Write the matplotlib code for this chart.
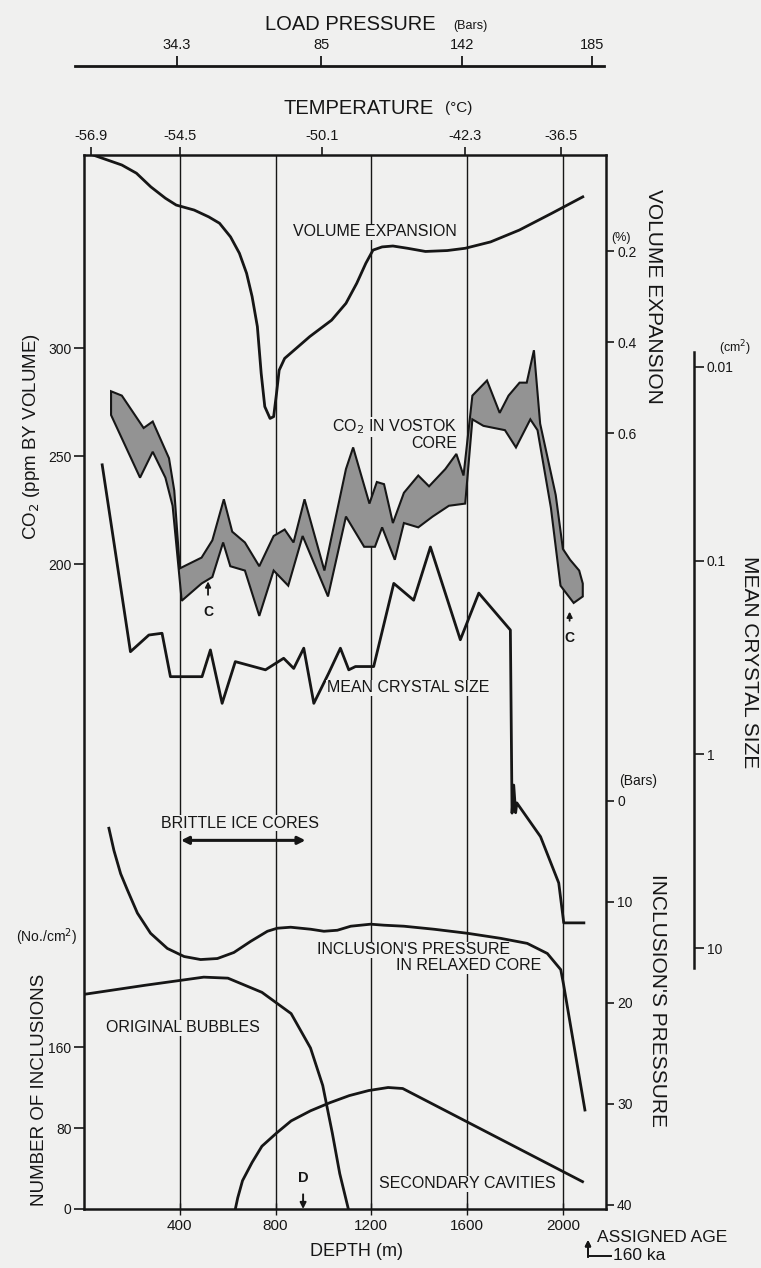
import matplotlib
matplotlib.use('Agg')
from matplotlib import pyplot as plt
from matplotlib.lines import Line2D

plt.rcParams['font.family'] = ['Liberation Sans', 'DejaVu Sans']

# --- values (depth in m) ---
depth_grid = [400, 800, 1200, 1600, 2000]

temp_depth = [29, 403, 994, 1591, 1992]
temp_labels = ['-56.9', '-54.5', '-50.1', '-42.3', '-36.5']

load_depth = [388, 990, 1579, 2122]
load_labels = ['34.3', '85', '142', '185']

# volume expansion (%)
ve_depth = [38, 98, 158, 219, 279, 340, 385, 460, 521, 566, 612, 649, 679, 702, 724, 740, 755,
            777, 792, 804, 815, 838, 943, 1034, 1094, 1139, 1177, 1207, 1245, 1290, 1351, 1426,
            1517, 1592, 1698, 1818, 1954, 2083]
ve_pct = [-0.011, 0.0, 0.011, 0.029, 0.059, 0.084, 0.099, 0.110, 0.125, 0.139, 0.169, 0.205,
          0.249, 0.300, 0.366, 0.469, 0.542, 0.568, 0.564, 0.513, 0.462, 0.436, 0.388, 0.352,
          0.315, 0.271, 0.227, 0.198, 0.191, 0.189, 0.194, 0.201, 0.199, 0.194, 0.180, 0.154,
          0.117, 0.081]

# CO2 in Vostok core, upper and lower envelope (ppm)
co2_hi_depth = [113, 158, 249, 287, 355, 377, 400, 491, 536, 584, 619, 672, 732, 792, 838, 875,
                921, 1004, 1094, 1124, 1192, 1223, 1253, 1290, 1336, 1396, 1441, 1509, 1555, 1585,
                1622, 1683, 1736, 1773, 1819, 1849, 1879, 1905, 1970, 2000, 2030, 2068, 2083]
co2_hi = [280, 278, 263, 266, 249, 234, 198, 203, 211, 230, 215, 210, 199, 213, 216, 210,
          230, 197, 244, 254, 228, 238, 237, 219, 233, 241, 236, 244, 251, 241,
          278, 285, 270, 278, 284, 284, 299, 265, 232, 207, 202, 197, 191]
co2_lo_depth = [113, 234, 287, 340, 370, 408, 491, 536, 581, 611, 672, 732, 792, 853, 913, 1019,
                1094, 1170, 1215, 1245, 1298, 1336, 1396, 1456, 1524, 1592, 1622, 1668, 1758, 1804,
                1864, 1894, 1950, 1990, 2045, 2083]
co2_lo = [269, 240, 252, 240, 227, 183, 191, 194, 210, 199, 197, 176, 197, 190, 213, 185,
          222, 208, 208, 217, 202, 219, 217, 222, 227, 228, 267, 264, 262, 254,
          267, 262, 226, 190, 182, 185]

# mean crystal size (cm2)
mcs_depth = [76, 194, 271, 326, 361, 493, 528, 577, 632, 758, 834, 876, 918, 960, 1022, 1071,
             1106, 1134, 1210, 1294, 1377, 1447, 1572, 1649, 1781, 1788, 1795, 1803, 1808, 1907,
             1983, 2004, 2088]
mcs = [0.032, 0.295, 0.242, 0.237, 0.397, 0.397, 0.289, 0.545, 0.332, 0.366, 0.319, 0.360,
       0.283, 0.545, 0.381, 0.283, 0.366, 0.352, 0.352, 0.131, 0.160, 0.085, 0.256, 0.147,
       0.228, 2.01, 1.44, 2.0, 1.78, 2.66, 4.61, 7.41, 7.41]

# inclusion's pressure in relaxed core (bars)
pres_depth = [104, 125, 153, 181, 223, 278, 348, 418, 487, 557, 626, 696, 766, 807, 863, 947,
              1002, 1058, 1114, 1197, 1253, 1336, 1462, 1601, 1740, 1851, 1935, 1991, 2003, 2092]
pres = [2.7, 4.9, 7.2, 8.8, 11.1, 13.1, 14.6, 15.4, 15.7, 15.6, 15.0, 13.9, 12.9, 12.6, 12.5,
        12.7, 12.9, 12.8, 12.4, 12.2, 12.3, 12.4, 12.7, 13.1, 13.6, 14.1, 15.1, 16.7, 18.2, 30.6]

# number of inclusions (No./cm2)
bub_depth = [0, 256, 500, 601, 743, 865, 946, 997, 1037, 1068, 1104]
bubbles = [212, 221, 229, 228, 214, 193, 159, 122, 75, 35, 0]
cav_depth = [632, 642, 662, 702, 743, 804, 865, 946, 1027, 1108, 1189, 1270, 1331, 2082]
cavities = [0, 11, 28, 46, 62, 75, 87, 97, 105, 112, 117, 120, 119, 27]

W, H = 761, 1268
ink = '#161616'
paper = '#f0f0ef'
band = '#939393'

fig = plt.figure(figsize=(W / 100, H / 100), dpi=100, facecolor=paper)


def fx(px):
    return px / W


def fy(py):
    return 1 - py / H


def rect(left, top, right, bottom):
    return [fx(left), fy(bottom), fx(right) - fx(left), fy(top) - fy(bottom)]


def label(px, py, s, size=11.5, ha='center', va='center', rot=0, box=False):
    kw = {}
    if box:
        kw['bbox'] = dict(facecolor=paper, edgecolor='none', pad=0.6)
    fig.text(fx(px), fy(py), s, fontsize=size, ha=ha, va=va, rotation=rot, color=ink, **kw)


L, T, R, B = 84, 155, 606, 1209
DMAX = 2180


def layer(ylim):
    a = fig.add_axes(rect(L, T, R, B))
    a.patch.set_visible(False)
    for s in a.spines.values():
        s.set_visible(False)
    a.set_xlim(0, DMAX)
    a.set_ylim(*ylim)
    a.tick_params(bottom=False, labelbottom=False, left=False, labelleft=False)
    return a


# main frame: depth vs CO2
ax = fig.add_axes(rect(L, T, R, B))
ax.set_facecolor(paper)
ax.set_xlim(0, DMAX)
ax.set_ylim(-98.6, 389.4)
for s in ax.spines.values():
    s.set_linewidth(1.8)
    s.set_color(ink)
for d in depth_grid:
    ax.axvline(d, color=ink, lw=1.0, zorder=0)
ax.set_xticks(depth_grid)
ax.set_xticklabels([str(d) for d in depth_grid])
ax.tick_params(axis='x', direction='inout', length=8, width=1, labelsize=11, pad=3, colors=ink)
ax.set_yticks([200, 250, 300])
ax.set_yticklabels(['200', '250', '300'])
ax.tick_params(axis='y', direction='out', length=7, width=1.2, labelsize=10, pad=2, colors=ink)

ax.fill(co2_hi_depth + co2_lo_depth[::-1], co2_hi + co2_lo[::-1],
        facecolor=band, edgecolor=ink, lw=1.5, zorder=2)
for dc, tip, txt in [(518, 192, 178), (2028, 178, 166)]:
    ax.annotate('C', xy=(dc, tip), xytext=(dc, txt), ha='center', va='center',
                fontsize=10, fontweight='bold', color=ink,
                arrowprops=dict(arrowstyle='-|>', color=ink, lw=1.3, mutation_scale=8,
                                shrinkA=5, shrinkB=0))

# volume expansion (right axis, top part) + temperature on top
ax_ve = layer((2.3055, -0.011))
ax_ve.plot(ve_depth, ve_pct, color=ink, lw=2.0)
ax_ve.yaxis.set_ticks_position('right')
ax_ve.set_yticks([0.2, 0.4, 0.6])
ax_ve.set_yticklabels(['0.2', '0.4', '0.6'])
ax_ve.tick_params(axis='y', right=True, labelright=True, direction='out', length=6, width=1.2,
                  labelsize=10, pad=2, colors=ink)
ax_ve.xaxis.set_ticks_position('top')
ax_ve.set_xticks(temp_depth)
ax_ve.set_xticklabels(temp_labels)
ax_ve.tick_params(axis='x', top=True, labeltop=True, direction='out', length=6, width=1.2,
                  labelsize=10.5, pad=3, colors=ink)

# inclusion's pressure (right axis, lower part)
ax_p = layer((40.4, -63.96))
ax_p.plot(pres_depth, pres, color=ink, lw=2.0)
ax_p.yaxis.set_ticks_position('right')
ax_p.set_yticks([0, 10, 20, 30, 40])
ax_p.set_yticklabels(['0', '10', '20', '30', '40'])
ax_p.tick_params(axis='y', right=True, labelright=True, direction='out', length=6, width=1.2,
                 labelsize=10, pad=2, colors=ink)
ax_p.annotate('', xy=(405, 3.9), xytext=(925, 3.9),
              arrowprops=dict(arrowstyle='<|-|>', color=ink, lw=2.2, mutation_scale=11,
                              shrinkA=0, shrinkB=0))

# number of inclusions (left axis, lower part)
ax_n = layer((0, 1041))
ax_n.plot(bub_depth, bubbles, color=ink, lw=2.0)
ax_n.plot(cav_depth, cavities, color=ink, lw=2.0)
ax_n.yaxis.set_ticks_position('left')
ax_n.set_yticks([0, 80, 160])
ax_n.set_yticklabels(['0', '80', '160'])
ax_n.tick_params(axis='y', left=True, labelleft=True, direction='out', length=7, width=1.2,
                 labelsize=10, pad=2, colors=ink)
ax_n.annotate('D', xy=(915, 0), xytext=(915, 31), ha='center', va='center',
              fontsize=10.5, fontweight='bold', color=ink,
              arrowprops=dict(arrowstyle='-|>', color=ink, lw=1.4, mutation_scale=9,
                              shrinkA=5, shrinkB=0))

# mean crystal size, log axis standing to the right of the frame
ax_m = fig.add_axes(rect(L, 352, 694, 968))
ax_m.patch.set_visible(False)
for k, s in ax_m.spines.items():
    s.set_visible(k == 'right')
ax_m.spines['right'].set_linewidth(1.8)
ax_m.spines['right'].set_color(ink)
ax_m.set_xlim(0, (694 - 84) / 0.2394)
ax_m.set_yscale('log')
ax_m.set_ylim(12.67, 0.00837)
ax_m.plot(mcs_depth, mcs, color=ink, lw=2.0)
ax_m.tick_params(bottom=False, labelbottom=False, left=False, labelleft=False)
ax_m.yaxis.set_ticks_position('right')
ax_m.set_yticks([0.01, 0.1, 1, 10])
ax_m.set_yticklabels(['0.01', '0.1', '1', '10'])
ax_m.minorticks_off()
ax_m.tick_params(axis='y', right=True, labelright=True, direction='out', length=7,
                 width=1.2, labelsize=10, pad=2, colors=ink)

# load pressure scale at the very top
ax_l = fig.add_axes(rect(75, 66, 604, 67))
ax_l.patch.set_visible(False)
for k, s in ax_l.spines.items():
    s.set_visible(k == 'top')
ax_l.spines['top'].set_linewidth(2.0)
ax_l.spines['top'].set_color(ink)
ax_l.set_xlim(-37.6, 2172)
ax_l.set_yticks([])
ax_l.xaxis.set_ticks_position('top')
ax_l.set_xticks(load_depth)
ax_l.set_xticklabels(load_labels)
ax_l.tick_params(axis='x', top=True, labeltop=True, bottom=False, labelbottom=False,
                 direction='out', length=7, width=1.3, labelsize=10.5, pad=3, colors=ink)

# titles and annotations
label(350, 25, 'LOAD PRESSURE', 14.5)
label(470, 26, '(Bars)', 9)
label(359, 108, 'TEMPERATURE', 14.5)
label(459, 108, '(\u00b0C)', 11)

label(375, 232, 'VOLUME EXPANSION', 11.5, box=True)
label(457, 427, 'CO$_2$ IN VOSTOK', 11.5, ha='right', box=True)
label(457, 443, 'CORE', 11.5, ha='right', box=True)
label(408, 688, 'MEAN CRYSTAL SIZE', 11.5, box=True)
label(240, 823, 'BRITTLE ICE CORES', 11.5, box=True)
label(317, 950, "INCLUSION'S PRESSURE", 11.5, ha='left', box=True)
label(396, 966, 'IN RELAXED CORE', 11.5, ha='left', box=True)
label(183, 1028, 'ORIGINAL BUBBLES', 11.5, box=True)
label(467, 1184, 'SECONDARY CAVITIES', 11.5, box=True)

label(32, 437, 'CO$_2$ (ppm BY VOLUME)', 13.5, rot=90)
label(47, 937, '(No./cm$^2$)', 10)
label(40, 1090, 'NUMBER OF INCLUSIONS', 13.5, rot=90)

label(621, 238, '(%)', 9)
label(654, 296, 'VOLUME EXPANSION', 15, rot=-90)
label(735, 348, '(cm$^2$)', 9)
label(750, 662, 'MEAN CRYSTAL SIZE', 15, rot=-90)
label(638, 781, '(Bars)', 10)
label(658, 1000, "INCLUSION'S PRESSURE", 15, rot=-90)

label(357, 1252, 'DEPTH (m)', 13)
label(662, 1237, 'ASSIGNED AGE', 12.5)
label(613, 1256, '160 ka', 12.5, ha='left')
fig.add_artist(Line2D([fx(588), fx(611)], [fy(1256), fy(1256)], color=ink, lw=1.4))
fig.add_artist(plt.annotate('', xy=(fx(588), fy(1240)), xytext=(fx(588), fy(1257)),
                            xycoords='figure fraction', textcoords='figure fraction',
                            arrowprops=dict(arrowstyle='-|>', color=ink, lw=1.4,
                                            mutation_scale=8, shrinkA=0, shrinkB=0)))

fig.savefig('out.png', dpi=100, facecolor=paper)
